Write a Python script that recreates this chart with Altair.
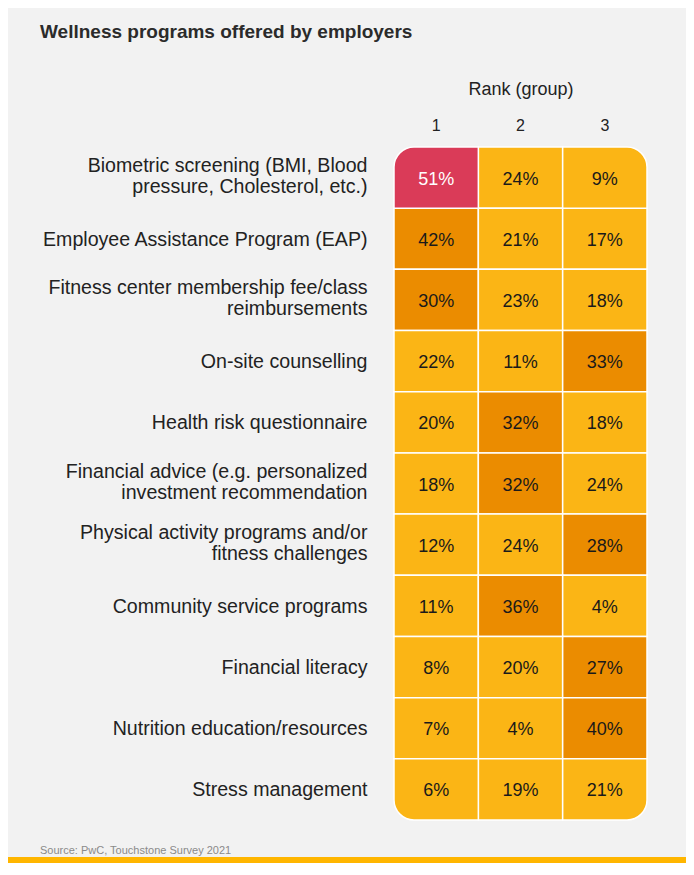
import altair as alt
import pandas as pd

programs = [
    "Biometric screening (BMI, Blood\npressure, Cholesterol, etc.)",
    "Employee Assistance Program (EAP)",
    "Fitness center membership fee/class\nreimbursements",
    "On-site counselling",
    "Health risk questionnaire",
    "Financial advice (e.g. personalized\ninvestment recommendation",
    "Physical activity programs and/or\nfitness challenges",
    "Community service programs",
    "Financial literacy",
    "Nutrition education/resources",
    "Stress management",
]
ranks = ["1", "2", "3"]
rank1 = [51, 42, 30, 22, 20, 18, 12, 11, 8, 7, 6]
rank2 = [24, 21, 23, 11, 32, 32, 24, 36, 20, 4, 19]
rank3 = [9, 17, 18, 33, 18, 24, 28, 4, 27, 40, 21]

rows = []
for i, p in enumerate(programs):
    for j, vals in enumerate([rank1, rank2, rank3]):
        rows.append({"program": p, "rank": ranks[j], "value": vals[i],
                     "ri": i, "ci": j, "label": f"{vals[i]}%"})
df = pd.DataFrame(rows)

FONT = "Liberation Sans"
YELLOW = "#fbb515"
ORANGE = "#eb8c00"
RED = "#da3b58"
W, H = 253, 673
nR = len(programs) - 1

x = alt.X("rank:N", sort=ranks, scale=alt.Scale(paddingInner=0, paddingOuter=0),
          axis=alt.Axis(orient="top", title="Rank (group)", ticks=False, domain=False,
                        labelAngle=0, labelFontSize=16, labelColor="#222222", labelPadding=14,
                        labelFont=FONT, titleFont=FONT, titleFontSize=18, titleFontWeight="normal",
                        titleColor="#222222", titlePadding=19))
y = alt.Y("program:N", sort=programs, scale=alt.Scale(paddingInner=0, paddingOuter=0),
          axis=alt.Axis(title=None, ticks=False, domain=False, labelFontSize=19.6,
                        labelFont=FONT, labelColor="#222222", labelPadding=27, labelLimit=500,
                        labelLineHeight=21.5, labelExpr="split(datum.value, '\\n')",
                        labelOffset={"condition": {"test": "indexof(datum.value, '\\n') >= 0",
                                                   "value": -12}, "value": 1}))
color = alt.Color("value:Q", scale=alt.Scale(type="threshold", domain=[25, 50],
                                              range=[YELLOW, ORANGE, RED]), legend=None)

base = alt.Chart(df).encode(x=x, y=y, color=color)
corner_test = f"(datum.ri==0 && datum.ci==0) || (datum.ri==0 && datum.ci==2) || (datum.ri=={nR} && datum.ci==0) || (datum.ri=={nR} && datum.ci==2)"
rect_kw = dict(stroke="white", strokeWidth=1.5)

main = base.transform_filter(f"!({corner_test})").mark_rect(**rect_kw)
tl = base.transform_filter("datum.ri==0 && datum.ci==0").mark_rect(cornerRadiusTopLeft=20, **rect_kw)
tr = base.transform_filter("datum.ri==0 && datum.ci==2").mark_rect(cornerRadiusTopRight=20, **rect_kw)
bl = base.transform_filter(f"datum.ri=={nR} && datum.ci==0").mark_rect(cornerRadiusBottomLeft=20, **rect_kw)
br = base.transform_filter(f"datum.ri=={nR} && datum.ci==2").mark_rect(cornerRadiusBottomRight=20, **rect_kw)

text = alt.Chart(df).mark_text(font=FONT, fontSize=18, dy=2).encode(
    x=x, y=y, text="label:N",
    color=alt.condition("datum.value >= 50", alt.value("white"), alt.value("#1a1a1a")))

one = pd.DataFrame({"t": ["Wellness programs offered by employers"],
                    "s": ["Source: PwC, Touchstone Survey 2021"]})
title = alt.Chart(one).mark_text(font=FONT, fontSize=19, fontWeight="bold", align="left",
                                 baseline="middle", color="#2b2b2b").encode(
    text="t:N", x=alt.value(-354), y=alt.value(-115))
source = alt.Chart(one).mark_text(font=FONT, fontSize=11, align="left", baseline="middle",
                                  color="#8a8a8a").encode(
    text="s:N", x=alt.value(-354), y=alt.value(704))
bar = alt.Chart(one).mark_rect(color="#ffb600").encode(
    x=alt.value(-386), x2=alt.value(W + 39), y=alt.value(710), y2=alt.value(716))

chart = alt.layer(main, tl, tr, bl, br, text, title, source, bar).resolve_scale(
    x="shared", y="shared").properties(
    width=W, height=H, autosize=alt.AutoSizeParams(type="none"),
    padding={"left": 386, "top": 139, "right": 39, "bottom": 43},
    background="#f2f2f2",
).configure_view(stroke=None)

chart.save("out.html", embed_options={"renderer": "svg", "actions": False})
